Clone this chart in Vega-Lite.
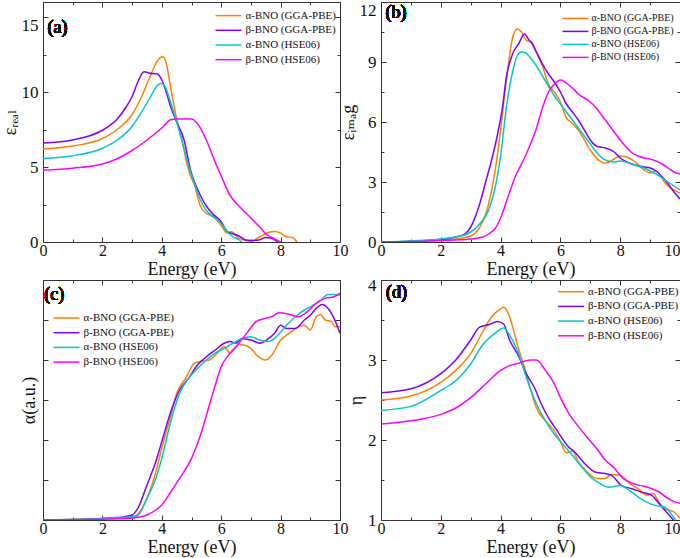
{
 "$schema": "https://vega.github.io/schema/vega-lite/v6.json",
 "padding": {"left": 0, "top": 1, "right": 0, "bottom": 0},
 "background": "white",
 "config": {
  "font": "Liberation Serif, Tinos, Times New Roman, Times, DejaVu Serif, serif",
  "view": {"stroke": "#333", "strokeWidth": 1},
  "axis": {"domain": false, "grid": false, "tickColor": "#333", "tickWidth": 1, "labelFont": "Liberation Serif, Tinos, Times New Roman, Times, DejaVu Serif, serif", "labelFontSize": 17, "labelColor": "#111", "titleFont": "Liberation Serif, Tinos, Times New Roman, Times, DejaVu Serif, serif", "titleFontSize": 18, "titleFontWeight": "normal", "titleColor": "#111", "labelOverlap": false, "labelFlush": false, "labelBound": false, "format": "~r"},
  "axisX": {"labelPadding": 5, "labelFontSize": 16, "titlePadding": 0},
  "axisY": {"labelPadding": 10, "titlePadding": 2},
  "legend": {"orient": "none", "symbolType": "M-2.6,0H2.6", "symbolSize": 100, "symbolStrokeWidth": 1.5, "labelFont": "Liberation Serif, Tinos, Times New Roman, Times, DejaVu Serif, serif", "labelFontSize": 11, "labelColor": "#111", "labelOffset": 11, "rowPadding": 3.7, "padding": 0, "labelLimit": 300},
  "text": {"font": "Liberation Serif, Tinos, Times New Roman, Times, DejaVu Serif, serif", "fontSize": 18, "fontWeight": "normal", "color": "#111", "align": "left", "baseline": "alphabetic"},
  "line": {"strokeWidth": 1.5, "interpolate": "monotone"}
 },
 "datasets": {
  "a": [
   {"s":"aG","e":0,"v":6.2},{"s":"aG","e":1,"v":6.4},{"s":"aG","e":2,"v":6.9},{"s":"aG","e":2.5,"v":7.5},{"s":"aG","e":3,"v":8.5},{"s":"aG","e":3.3,"v":9.6},{"s":"aG","e":3.6,"v":11.0},{"s":"aG","e":3.8,"v":11.9},{"s":"aG","e":3.95,"v":12.3},{"s":"aG","e":4.05,"v":12.35},{"s":"aG","e":4.15,"v":11.9},{"s":"aG","e":4.3,"v":10.3},{"s":"aG","e":4.5,"v":8.2},{"s":"aG","e":4.7,"v":6.6},{"s":"aG","e":4.85,"v":5.2},{"s":"aG","e":4.95,"v":4.5},{"s":"aG","e":5.1,"v":3.8},{"s":"aG","e":5.3,"v":2.4},{"s":"aG","e":5.5,"v":1.9},{"s":"aG","e":5.75,"v":1.7},{"s":"aG","e":6.0,"v":1.1},{"s":"aG","e":6.2,"v":0.6},{"s":"aG","e":6.35,"v":0.7},{"s":"aG","e":6.5,"v":0.4},{"s":"aG","e":6.8,"v":0.1},{"s":"aG","e":7.0,"v":0.05},{"s":"aG","e":7.3,"v":0.35},{"s":"aG","e":7.6,"v":0.65},{"s":"aG","e":7.8,"v":0.7},{"s":"aG","e":8.0,"v":0.6},{"s":"aG","e":8.2,"v":0.35},{"s":"aG","e":8.4,"v":0.3},{"s":"aG","e":8.55,"v":0},
   {"s":"bG","e":0,"v":6.6},{"s":"bG","e":1,"v":6.8},{"s":"bG","e":2,"v":7.45},{"s":"bG","e":2.5,"v":8.2},{"s":"bG","e":2.8,"v":9.0},{"s":"bG","e":3.0,"v":9.7},{"s":"bG","e":3.2,"v":10.7},{"s":"bG","e":3.4,"v":11.35},{"s":"bG","e":3.6,"v":11.25},{"s":"bG","e":3.85,"v":11.2},{"s":"bG","e":4.0,"v":10.8},{"s":"bG","e":4.1,"v":10.3},{"s":"bG","e":4.3,"v":9.0},{"s":"bG","e":4.5,"v":8.0},{"s":"bG","e":4.75,"v":6.8},{"s":"bG","e":4.98,"v":4.7},{"s":"bG","e":5.1,"v":4.0},{"s":"bG","e":5.3,"v":3.1},{"s":"bG","e":5.5,"v":2.4},{"s":"bG","e":5.7,"v":1.9},{"s":"bG","e":6.0,"v":1.35},{"s":"bG","e":6.2,"v":0.7},{"s":"bG","e":6.4,"v":0.55},{"s":"bG","e":6.6,"v":0.4},{"s":"bG","e":6.8,"v":0.15},{"s":"bG","e":7.0,"v":0.1},{"s":"bG","e":7.3,"v":0.15},{"s":"bG","e":7.5,"v":0.3},{"s":"bG","e":7.7,"v":0.25},{"s":"bG","e":7.9,"v":0},
   {"s":"aH","e":0,"v":5.56},{"s":"aH","e":1,"v":5.75},{"s":"aH","e":2,"v":6.25},{"s":"aH","e":2.5,"v":6.8},{"s":"aH","e":3.0,"v":7.7},{"s":"aH","e":3.3,"v":8.6},{"s":"aH","e":3.6,"v":9.6},{"s":"aH","e":3.8,"v":10.3},{"s":"aH","e":3.97,"v":10.56},{"s":"aH","e":4.1,"v":10.4},{"s":"aH","e":4.25,"v":9.6},{"s":"aH","e":4.5,"v":8.0},{"s":"aH","e":4.7,"v":6.6},{"s":"aH","e":4.9,"v":5.1},{"s":"aH","e":5.1,"v":3.9},{"s":"aH","e":5.3,"v":2.8},{"s":"aH","e":5.5,"v":2.1},{"s":"aH","e":5.7,"v":1.7},{"s":"aH","e":6.0,"v":1.25},{"s":"aH","e":6.2,"v":0.7},{"s":"aH","e":6.4,"v":0.35},{"s":"aH","e":6.6,"v":0.15},{"s":"aH","e":6.7,"v":0},
   {"s":"bH","e":0,"v":4.79},{"s":"bH","e":1,"v":4.92},{"s":"bH","e":2,"v":5.2},{"s":"bH","e":2.5,"v":5.55},{"s":"bH","e":3.0,"v":6.1},{"s":"bH","e":3.5,"v":6.8},{"s":"bH","e":4.0,"v":7.6},{"s":"bH","e":4.3,"v":8.15},{"s":"bH","e":4.5,"v":8.2},{"s":"bH","e":5.0,"v":8.2},{"s":"bH","e":5.2,"v":7.9},{"s":"bH","e":5.5,"v":6.8},{"s":"bH","e":5.8,"v":5.3},{"s":"bH","e":6.0,"v":4.4},{"s":"bH","e":6.3,"v":3.1},{"s":"bH","e":6.6,"v":2.4},{"s":"bH","e":7.0,"v":1.6},{"s":"bH","e":7.3,"v":1.0},{"s":"bH","e":7.5,"v":0.55},{"s":"bH","e":7.8,"v":0.2},{"s":"bH","e":8.0,"v":0}
  ],
  "b": [
   {"s":"aG","e":0,"v":0},{"s":"aG","e":1,"v":0.03},{"s":"aG","e":2,"v":0.1},{"s":"aG","e":2.5,"v":0.15},{"s":"aG","e":3.0,"v":0.3},{"s":"aG","e":3.3,"v":0.73},{"s":"aG","e":3.6,"v":1.9},{"s":"aG","e":3.8,"v":3.4},{"s":"aG","e":4.0,"v":5.6},{"s":"aG","e":4.2,"v":8.2},{"s":"aG","e":4.4,"v":10.2},{"s":"aG","e":4.55,"v":10.65},{"s":"aG","e":4.7,"v":10.5},{"s":"aG","e":4.85,"v":10.1},{"s":"aG","e":5.0,"v":10.0},{"s":"aG","e":5.2,"v":9.45},{"s":"aG","e":5.4,"v":8.8},{"s":"aG","e":5.6,"v":7.9},{"s":"aG","e":5.8,"v":7.5},{"s":"aG","e":6.0,"v":7.0},{"s":"aG","e":6.2,"v":6.2},{"s":"aG","e":6.35,"v":6.0},{"s":"aG","e":6.6,"v":5.6},{"s":"aG","e":7.0,"v":4.6},{"s":"aG","e":7.2,"v":4.2},{"s":"aG","e":7.5,"v":3.95},{"s":"aG","e":7.8,"v":4.15},{"s":"aG","e":8.0,"v":4.3},{"s":"aG","e":8.3,"v":4.2},{"s":"aG","e":8.5,"v":4.0},{"s":"aG","e":8.8,"v":3.6},{"s":"aG","e":9.0,"v":3.45},{"s":"aG","e":9.2,"v":3.55},{"s":"aG","e":9.5,"v":2.95},{"s":"aG","e":10,"v":2.45},
   {"s":"bG","e":0,"v":0},{"s":"bG","e":1,"v":0.04},{"s":"bG","e":2,"v":0.13},{"s":"bG","e":2.5,"v":0.25},{"s":"bG","e":2.8,"v":0.4},{"s":"bG","e":3.0,"v":0.75},{"s":"bG","e":3.3,"v":1.9},{"s":"bG","e":3.5,"v":3.0},{"s":"bG","e":3.7,"v":4.1},{"s":"bG","e":3.9,"v":5.4},{"s":"bG","e":4.05,"v":6.6},{"s":"bG","e":4.2,"v":8.3},{"s":"bG","e":4.4,"v":9.4},{"s":"bG","e":4.6,"v":9.9},{"s":"bG","e":4.8,"v":10.4},{"s":"bG","e":4.95,"v":10.1},{"s":"bG","e":5.05,"v":9.95},{"s":"bG","e":5.2,"v":9.5},{"s":"bG","e":5.4,"v":8.9},{"s":"bG","e":5.6,"v":8.4},{"s":"bG","e":5.8,"v":8.0},{"s":"bG","e":6.0,"v":7.5},{"s":"bG","e":6.2,"v":6.9},{"s":"bG","e":6.4,"v":6.5},{"s":"bG","e":6.6,"v":6.1},{"s":"bG","e":6.8,"v":5.6},{"s":"bG","e":7.0,"v":5.1},{"s":"bG","e":7.2,"v":4.8},{"s":"bG","e":7.5,"v":4.7},{"s":"bG","e":7.8,"v":4.5},{"s":"bG","e":8.0,"v":4.2},{"s":"bG","e":8.3,"v":3.95},{"s":"bG","e":8.5,"v":3.85},{"s":"bG","e":8.8,"v":3.75},{"s":"bG","e":9.0,"v":3.7},{"s":"bG","e":9.2,"v":3.55},{"s":"bG","e":9.5,"v":3.1},{"s":"bG","e":9.8,"v":2.5},{"s":"bG","e":10,"v":2.15},
   {"s":"aH","e":0,"v":0},{"s":"aH","e":1,"v":0.05},{"s":"aH","e":2,"v":0.15},{"s":"aH","e":2.5,"v":0.25},{"s":"aH","e":2.8,"v":0.35},{"s":"aH","e":3.0,"v":0.5},{"s":"aH","e":3.3,"v":0.9},{"s":"aH","e":3.6,"v":1.6},{"s":"aH","e":3.8,"v":2.6},{"s":"aH","e":4.0,"v":4.3},{"s":"aH","e":4.2,"v":6.8},{"s":"aH","e":4.4,"v":8.5},{"s":"aH","e":4.55,"v":9.3},{"s":"aH","e":4.7,"v":9.5},{"s":"aH","e":4.85,"v":9.45},{"s":"aH","e":5.0,"v":9.2},{"s":"aH","e":5.2,"v":8.8},{"s":"aH","e":5.4,"v":8.3},{"s":"aH","e":5.6,"v":7.8},{"s":"aH","e":5.8,"v":7.3},{"s":"aH","e":6.0,"v":6.9},{"s":"aH","e":6.2,"v":6.5},{"s":"aH","e":6.4,"v":6.1},{"s":"aH","e":6.6,"v":5.7},{"s":"aH","e":6.8,"v":5.3},{"s":"aH","e":7.0,"v":4.9},{"s":"aH","e":7.2,"v":4.5},{"s":"aH","e":7.5,"v":4.1},{"s":"aH","e":7.8,"v":4.0},{"s":"aH","e":8.0,"v":4.05},{"s":"aH","e":8.3,"v":3.95},{"s":"aH","e":8.5,"v":3.85},{"s":"aH","e":8.8,"v":3.7},{"s":"aH","e":9.0,"v":3.55},{"s":"aH","e":9.2,"v":3.4},{"s":"aH","e":9.5,"v":3.1},{"s":"aH","e":9.8,"v":2.8},{"s":"aH","e":10,"v":2.6},
   {"s":"bH","e":0,"v":0},{"s":"bH","e":1,"v":0.02},{"s":"bH","e":2,"v":0.07},{"s":"bH","e":2.5,"v":0.1},{"s":"bH","e":3.0,"v":0.15},{"s":"bH","e":3.4,"v":0.25},{"s":"bH","e":3.6,"v":0.4},{"s":"bH","e":3.83,"v":0.7},{"s":"bH","e":4.0,"v":1.2},{"s":"bH","e":4.28,"v":2.4},{"s":"bH","e":4.5,"v":3.3},{"s":"bH","e":4.8,"v":4.2},{"s":"bH","e":5.0,"v":4.9},{"s":"bH","e":5.18,"v":5.6},{"s":"bH","e":5.4,"v":6.7},{"s":"bH","e":5.6,"v":7.5},{"s":"bH","e":5.8,"v":7.9},{"s":"bH","e":6.0,"v":8.1},{"s":"bH","e":6.2,"v":7.95},{"s":"bH","e":6.4,"v":7.7},{"s":"bH","e":6.6,"v":7.4},{"s":"bH","e":7.0,"v":7.0},{"s":"bH","e":7.2,"v":6.7},{"s":"bH","e":7.4,"v":6.3},{"s":"bH","e":7.6,"v":5.9},{"s":"bH","e":7.8,"v":5.5},{"s":"bH","e":8.0,"v":5.1},{"s":"bH","e":8.2,"v":4.75},{"s":"bH","e":8.4,"v":4.45},{"s":"bH","e":8.6,"v":4.3},{"s":"bH","e":8.8,"v":4.2},{"s":"bH","e":9.0,"v":4.15},{"s":"bH","e":9.2,"v":4.05},{"s":"bH","e":9.4,"v":3.9},{"s":"bH","e":9.6,"v":3.7},{"s":"bH","e":9.8,"v":3.5},{"s":"bH","e":10,"v":3.4}
  ],
  "c": [
   {"s":"aG","e":0,"v":0},{"s":"aG","e":1,"v":0.01},{"s":"aG","e":2,"v":0.03},{"s":"aG","e":2.5,"v":0.05},{"s":"aG","e":3.0,"v":0.08},{"s":"aG","e":3.2,"v":0.15},{"s":"aG","e":3.5,"v":0.54},{"s":"aG","e":3.8,"v":1.2},{"s":"aG","e":4.0,"v":1.8},{"s":"aG","e":4.3,"v":2.6},{"s":"aG","e":4.5,"v":3.17},{"s":"aG","e":4.8,"v":3.54},{"s":"aG","e":5.1,"v":3.92},{"s":"aG","e":5.3,"v":3.96},{"s":"aG","e":5.6,"v":4.0},{"s":"aG","e":5.8,"v":4.12},{"s":"aG","e":6.1,"v":4.33},{"s":"aG","e":6.3,"v":4.17},{"s":"aG","e":6.6,"v":4.39},{"s":"aG","e":6.8,"v":4.37},{"s":"aG","e":7.0,"v":4.29},{"s":"aG","e":7.2,"v":4.12},{"s":"aG","e":7.5,"v":4.0},{"s":"aG","e":7.7,"v":4.12},{"s":"aG","e":8.0,"v":4.5},{"s":"aG","e":8.3,"v":4.67},{"s":"aG","e":8.6,"v":4.83},{"s":"aG","e":8.8,"v":4.87},{"s":"aG","e":9.0,"v":4.75},{"s":"aG","e":9.2,"v":5.08},{"s":"aG","e":9.35,"v":5.14},{"s":"aG","e":9.5,"v":5.0},{"s":"aG","e":9.7,"v":4.96},{"s":"aG","e":9.85,"v":4.83},{"s":"aG","e":10,"v":4.83},
   {"s":"bG","e":0,"v":0},{"s":"bG","e":1,"v":0.01},{"s":"bG","e":2,"v":0.04},{"s":"bG","e":2.5,"v":0.06},{"s":"bG","e":3.0,"v":0.125},{"s":"bG","e":3.2,"v":0.3},{"s":"bG","e":3.5,"v":0.875},{"s":"bG","e":3.8,"v":1.46},{"s":"bG","e":4.0,"v":1.96},{"s":"bG","e":4.3,"v":2.7},{"s":"bG","e":4.6,"v":3.25},{"s":"bG","e":4.9,"v":3.54},{"s":"bG","e":5.2,"v":3.875},{"s":"bG","e":5.5,"v":4.08},{"s":"bG","e":5.8,"v":4.25},{"s":"bG","e":6.1,"v":4.42},{"s":"bG","e":6.3,"v":4.46},{"s":"bG","e":6.5,"v":4.42},{"s":"bG","e":6.7,"v":4.54},{"s":"bG","e":7.0,"v":4.5},{"s":"bG","e":7.3,"v":4.42},{"s":"bG","e":7.6,"v":4.54},{"s":"bG","e":7.8,"v":4.67},{"s":"bG","e":8.0,"v":4.87},{"s":"bG","e":8.2,"v":4.79},{"s":"bG","e":8.5,"v":4.79},{"s":"bG","e":8.8,"v":5.0},{"s":"bG","e":9.0,"v":5.12},{"s":"bG","e":9.2,"v":5.29},{"s":"bG","e":9.4,"v":5.39},{"s":"bG","e":9.6,"v":5.29},{"s":"bG","e":9.8,"v":5.04},{"s":"bG","e":10,"v":4.67},
   {"s":"aH","e":0,"v":0},{"s":"aH","e":1,"v":0.01},{"s":"aH","e":2,"v":0.04},{"s":"aH","e":2.5,"v":0.06},{"s":"aH","e":3.0,"v":0.08},{"s":"aH","e":3.2,"v":0.12},{"s":"aH","e":3.5,"v":0.54},{"s":"aH","e":3.8,"v":1.04},{"s":"aH","e":4.0,"v":1.54},{"s":"aH","e":4.3,"v":2.46},{"s":"aH","e":4.6,"v":3.17},{"s":"aH","e":4.9,"v":3.54},{"s":"aH","e":5.2,"v":3.79},{"s":"aH","e":5.5,"v":4.0},{"s":"aH","e":5.8,"v":4.17},{"s":"aH","e":6.1,"v":4.29},{"s":"aH","e":6.4,"v":4.42},{"s":"aH","e":6.7,"v":4.54},{"s":"aH","e":7.0,"v":4.58},{"s":"aH","e":7.3,"v":4.5},{"s":"aH","e":7.6,"v":4.46},{"s":"aH","e":7.9,"v":4.62},{"s":"aH","e":8.2,"v":4.87},{"s":"aH","e":8.5,"v":5.08},{"s":"aH","e":8.8,"v":5.25},{"s":"aH","e":9.0,"v":5.33},{"s":"aH","e":9.3,"v":5.46},{"s":"aH","e":9.6,"v":5.64},{"s":"aH","e":9.8,"v":5.64},{"s":"aH","e":10,"v":5.62},
   {"s":"bH","e":0,"v":0},{"s":"bH","e":1,"v":0.005},{"s":"bH","e":2,"v":0.02},{"s":"bH","e":2.5,"v":0.03},{"s":"bH","e":3.0,"v":0.05},{"s":"bH","e":3.5,"v":0.125},{"s":"bH","e":3.8,"v":0.25},{"s":"bH","e":4.0,"v":0.375},{"s":"bH","e":4.3,"v":0.7},{"s":"bH","e":4.6,"v":1.04},{"s":"bH","e":5.0,"v":1.54},{"s":"bH","e":5.3,"v":2.12},{"s":"bH","e":5.6,"v":2.87},{"s":"bH","e":5.8,"v":3.37},{"s":"bH","e":6.0,"v":3.83},{"s":"bH","e":6.3,"v":4.17},{"s":"bH","e":6.6,"v":4.42},{"s":"bH","e":6.9,"v":4.71},{"s":"bH","e":7.2,"v":4.97},{"s":"bH","e":7.5,"v":5.04},{"s":"bH","e":7.7,"v":5.08},{"s":"bH","e":7.95,"v":5.18},{"s":"bH","e":8.3,"v":5.14},{"s":"bH","e":8.6,"v":5.08},{"s":"bH","e":8.9,"v":5.21},{"s":"bH","e":9.2,"v":5.42},{"s":"bH","e":9.5,"v":5.54},{"s":"bH","e":9.8,"v":5.58},{"s":"bH","e":10,"v":5.67}
  ],
  "d": [
   {"s":"aG","e":0,"v":2.5},{"s":"aG","e":1,"v":2.55},{"s":"aG","e":2,"v":2.72},{"s":"aG","e":2.5,"v":2.87},{"s":"aG","e":3.0,"v":3.08},{"s":"aG","e":3.4,"v":3.35},{"s":"aG","e":3.7,"v":3.54},{"s":"aG","e":4.0,"v":3.64},{"s":"aG","e":4.1,"v":3.66},{"s":"aG","e":4.25,"v":3.59},{"s":"aG","e":4.4,"v":3.42},{"s":"aG","e":4.6,"v":3.14},{"s":"aG","e":4.8,"v":2.91},{"s":"aG","e":5.0,"v":2.64},{"s":"aG","e":5.2,"v":2.4},{"s":"aG","e":5.5,"v":2.24},{"s":"aG","e":5.8,"v":2.11},{"s":"aG","e":6.0,"v":1.98},{"s":"aG","e":6.2,"v":1.84},{"s":"aG","e":6.4,"v":1.86},{"s":"aG","e":6.6,"v":1.73},{"s":"aG","e":6.9,"v":1.6},{"s":"aG","e":7.2,"v":1.52},{"s":"aG","e":7.5,"v":1.52},{"s":"aG","e":7.7,"v":1.57},{"s":"aG","e":8.0,"v":1.56},{"s":"aG","e":8.3,"v":1.46},{"s":"aG","e":8.6,"v":1.39},{"s":"aG","e":8.9,"v":1.31},{"s":"aG","e":9.1,"v":1.33},{"s":"aG","e":9.3,"v":1.22},{"s":"aG","e":9.5,"v":1.14},{"s":"aG","e":9.8,"v":1.1},{"s":"aG","e":10,"v":1.02},
   {"s":"bG","e":0,"v":2.59},{"s":"bG","e":1,"v":2.64},{"s":"bG","e":2,"v":2.83},{"s":"bG","e":2.5,"v":3.0},{"s":"bG","e":3.0,"v":3.25},{"s":"bG","e":3.3,"v":3.41},{"s":"bG","e":3.6,"v":3.44},{"s":"bG","e":3.9,"v":3.48},{"s":"bG","e":4.1,"v":3.45},{"s":"bG","e":4.3,"v":3.25},{"s":"bG","e":4.6,"v":3.05},{"s":"bG","e":4.8,"v":2.87},{"s":"bG","e":5.15,"v":2.64},{"s":"bG","e":5.36,"v":2.45},{"s":"bG","e":5.6,"v":2.28},{"s":"bG","e":5.9,"v":2.11},{"s":"bG","e":6.26,"v":1.92},{"s":"bG","e":6.5,"v":1.84},{"s":"bG","e":6.8,"v":1.71},{"s":"bG","e":7.15,"v":1.6},{"s":"bG","e":7.5,"v":1.58},{"s":"bG","e":7.7,"v":1.56},{"s":"bG","e":8.05,"v":1.43},{"s":"bG","e":8.4,"v":1.39},{"s":"bG","e":8.7,"v":1.35},{"s":"bG","e":9.05,"v":1.31},{"s":"bG","e":9.27,"v":1.22},{"s":"bG","e":9.5,"v":1.12},{"s":"bG","e":9.78,"v":1.0},
   {"s":"aH","e":0,"v":2.37},{"s":"aH","e":1,"v":2.42},{"s":"aH","e":2,"v":2.62},{"s":"aH","e":2.5,"v":2.74},{"s":"aH","e":3.0,"v":2.95},{"s":"aH","e":3.4,"v":3.19},{"s":"aH","e":3.8,"v":3.33},{"s":"aH","e":4.1,"v":3.4},{"s":"aH","e":4.3,"v":3.31},{"s":"aH","e":4.6,"v":3.08},{"s":"aH","e":4.9,"v":2.74},{"s":"aH","e":5.2,"v":2.45},{"s":"aH","e":5.5,"v":2.24},{"s":"aH","e":5.8,"v":2.07},{"s":"aH","e":6.1,"v":1.94},{"s":"aH","e":6.4,"v":1.81},{"s":"aH","e":6.7,"v":1.67},{"s":"aH","e":7.0,"v":1.54},{"s":"aH","e":7.3,"v":1.46},{"s":"aH","e":7.6,"v":1.41},{"s":"aH","e":8.0,"v":1.43},{"s":"aH","e":8.3,"v":1.37},{"s":"aH","e":8.6,"v":1.29},{"s":"aH","e":8.9,"v":1.22},{"s":"aH","e":9.2,"v":1.18},{"s":"aH","e":9.5,"v":1.16},{"s":"aH","e":9.7,"v":1.08},{"s":"aH","e":9.85,"v":1.0},
   {"s":"bH","e":0,"v":2.2},{"s":"bH","e":1,"v":2.24},{"s":"bH","e":2,"v":2.32},{"s":"bH","e":2.5,"v":2.4},{"s":"bH","e":3.0,"v":2.53},{"s":"bH","e":3.5,"v":2.7},{"s":"bH","e":4.0,"v":2.87},{"s":"bH","e":4.3,"v":2.93},{"s":"bH","e":4.6,"v":2.96},{"s":"bH","e":5.0,"v":3.0},{"s":"bH","e":5.2,"v":3.0},{"s":"bH","e":5.5,"v":2.87},{"s":"bH","e":5.8,"v":2.7},{"s":"bH","e":6.0,"v":2.53},{"s":"bH","e":6.3,"v":2.32},{"s":"bH","e":6.6,"v":2.17},{"s":"bH","e":6.9,"v":2.03},{"s":"bH","e":7.2,"v":1.9},{"s":"bH","e":7.5,"v":1.75},{"s":"bH","e":7.8,"v":1.65},{"s":"bH","e":8.1,"v":1.52},{"s":"bH","e":8.4,"v":1.46},{"s":"bH","e":8.7,"v":1.43},{"s":"bH","e":9.0,"v":1.4},{"s":"bH","e":9.3,"v":1.35},{"s":"bH","e":9.6,"v":1.27},{"s":"bH","e":9.8,"v":1.23},{"s":"bH","e":10,"v":1.21}
  ]
 },
 "columns": 2,
 "spacing": {"row": 38, "column": 41},
 "bounds": "flush",
 "concat": [
  {
   "width": 297, "height": 240,
   "data": {"name": "a"},
   "layer": [
    {"mark": {"type": "line", "clip": true},
     "encoding": {
      "x": {"field": "e", "type": "quantitative", "scale": {"domain": [0, 10]}, "axis": {"orient": "bottom", "values": [0,1,2,3,4,5,6,7,8,9,10], "labelExpr": "datum.value % 2 === 0 ? datum.label : ''", "tickSize": {"condition": {"test": "datum.value % 2 === 0", "value": -5}, "value": -3}, "title": "Energy (eV)"}},
      "y": {"field": "v", "type": "quantitative", "scale": {"domain": [0, 15]}, "axis": {"orient": "left", "values": [0,2.5,5,7.5,10,12.5,15], "labelExpr": "datum.value % 5 === 0 ? datum.label : ''", "labelOffset": {"condition": {"test": "datum.value === 15", "value": 8.5}, "value": 0}, "tickSize": {"condition": {"test": "datum.value % 5 === 0", "value": -5}, "value": -3}, "title": "εᵣₑₐₗ"}},
      "color": {"field": "s", "type": "nominal", "scale": {"domain": ["aG","bG","aH","bH"], "range": ["#FF8000","#8000FF","#00C8C8","#FF00FF"]}, "legend": {"title": null, "legendX": 179.5, "legendY": 7.6, "labelExpr": "datum.label === 'aG' ? 'α-BNO (GGA-PBE)' : datum.label === 'bG' ? 'β-BNO (GGA-PBE)' : datum.label === 'aH' ? 'α-BNO (HSE06)' : 'β-BNO (HSE06)'"}}
     }},
    {"mark": {"type": "line", "opacity": 0},
     "encoding": {
      "x": {"field": "e", "type": "quantitative", "scale": {"domain": [0, 10]}, "axis": {"orient": "top", "labels": false, "title": null, "values": [0,1,2,3,4,5,6,7,8,9,10], "tickSize": {"condition": {"test": "datum.value % 2 === 0", "value": -5}, "value": -3}}},
      "y": {"field": "v", "type": "quantitative", "scale": {"domain": [0, 15]}, "axis": {"orient": "right", "labels": false, "title": null, "values": [0,2.5,5,7.5,10,12.5,15], "tickSize": {"condition": {"test": "datum.value % 5 === 0", "value": -5}, "value": -3}}},
      "detail": {"field": "s"}
     }},
    {"mark": {"type": "text"},
     "encoding": {
      "x": {"datum": 0.15, "type": "quantitative", "axis": null},
      "y": {"datum": 13.95, "type": "quantitative", "axis": null},
      "text": {"value": "(a)"}
     }}
   ],
   "resolve": {"axis": {"x": "independent", "y": "independent"}}
  },
  {
   "width": 299, "height": 240,
   "data": {"name": "b"},
   "layer": [
    {"mark": {"type": "line", "clip": true},
     "encoding": {
      "x": {"field": "e", "type": "quantitative", "scale": {"domain": [0, 10]}, "axis": {"orient": "bottom", "values": [0,1,2,3,4,5,6,7,8,9,10], "labelExpr": "datum.value % 2 === 0 ? datum.label : ''", "labelAlign": {"condition": {"test": "datum.value === 10", "value": "right"}, "value": "center"}, "tickSize": {"condition": {"test": "datum.value % 2 === 0", "value": -5}, "value": -3}, "title": "Energy (eV)"}},
      "y": {"field": "v", "type": "quantitative", "scale": {"domain": [0, 12]}, "axis": {"orient": "left", "values": [0,1.5,3,4.5,6,7.5,9,10.5,12], "labelExpr": "datum.value % 3 === 0 ? datum.label : ''", "labelOffset": {"condition": {"test": "datum.value === 12", "value": 8.5}, "value": 0}, "tickSize": {"condition": {"test": "datum.value % 3 === 0", "value": -5}, "value": -3}, "title": "εᵢₘₐg"}},
      "color": {"field": "s", "type": "nominal", "scale": {"domain": ["aG","bG","aH","bH"], "range": ["#FF8000","#8000FF","#00C8C8","#FF00FF"]}, "legend": {"title": null, "legendX": 188.5, "legendY": 10.4, "rowPadding": 2, "labelFontSize": 10, "labelOffset": 10, "labelExpr": "datum.label === 'aG' ? 'α-BNO (GGA-PBE)' : datum.label === 'bG' ? 'β-BNO (GGA-PBE)' : datum.label === 'aH' ? 'α-BNO (HSE06)' : 'β-BNO (HSE06)'"}}
     }},
    {"mark": {"type": "line", "opacity": 0},
     "encoding": {
      "x": {"field": "e", "type": "quantitative", "scale": {"domain": [0, 10]}, "axis": {"orient": "top", "labels": false, "title": null, "values": [0,1,2,3,4,5,6,7,8,9,10], "tickSize": {"condition": {"test": "datum.value % 2 === 0", "value": -5}, "value": -3}}},
      "y": {"field": "v", "type": "quantitative", "scale": {"domain": [0, 12]}, "axis": {"orient": "right", "labels": false, "title": null, "values": [0,1.5,3,4.5,6,7.5,9,10.5,12], "tickSize": {"condition": {"test": "datum.value % 3 === 0", "value": -5}, "value": -3}}},
      "detail": {"field": "s"}
     }},
    {"mark": {"type": "text"},
     "encoding": {
      "x": {"datum": 0.15, "type": "quantitative", "axis": null},
      "y": {"datum": 11.2, "type": "quantitative", "axis": null},
      "text": {"value": "(b)"}
     }}
   ],
   "resolve": {"axis": {"x": "independent", "y": "independent"}}
  },
  {
   "width": 297, "height": 240,
   "data": {"name": "c"},
   "layer": [
    {"mark": {"type": "line", "clip": true},
     "encoding": {
      "x": {"field": "e", "type": "quantitative", "scale": {"domain": [0, 10]}, "axis": {"orient": "bottom", "values": [0,1,2,3,4,5,6,7,8,9,10], "labelExpr": "datum.value % 2 === 0 ? datum.label : ''", "tickSize": {"condition": {"test": "datum.value % 2 === 0", "value": -5}, "value": -3}, "title": "Energy (eV)"}},
      "y": {"field": "v", "type": "quantitative", "scale": {"domain": [0, 6]}, "axis": {"orient": "left", "values": [0,1,2,3,4,5,6], "labels": false, "tickSize": -5, "title": "α(a.u.)", "titlePadding": 4}},
      "color": {"field": "s", "type": "nominal", "scale": {"domain": ["aG","bG","aH","bH"], "range": ["#FF8000","#8000FF","#00C8C8","#FF00FF"]}, "legend": {"title": null, "legendX": 17.5, "legendY": 32, "labelExpr": "datum.label === 'aG' ? 'α-BNO (GGA-PBE)' : datum.label === 'bG' ? 'β-BNO (GGA-PBE)' : datum.label === 'aH' ? 'α-BNO (HSE06)' : 'β-BNO (HSE06)'"}}
     }},
    {"mark": {"type": "line", "opacity": 0},
     "encoding": {
      "x": {"field": "e", "type": "quantitative", "scale": {"domain": [0, 10]}, "axis": {"orient": "top", "labels": false, "title": null, "values": [0,1,2,3,4,5,6,7,8,9,10], "tickSize": {"condition": {"test": "datum.value % 2 === 0", "value": -5}, "value": -3}}},
      "y": {"field": "v", "type": "quantitative", "scale": {"domain": [0, 6]}, "axis": {"orient": "right", "labels": false, "title": null, "values": [0,1,2,3,4,5,6], "tickSize": -5}},
      "detail": {"field": "s"}
     }},
    {"mark": {"type": "text"},
     "encoding": {
      "x": {"datum": 0.04, "type": "quantitative", "axis": null},
      "y": {"datum": 5.5, "type": "quantitative", "axis": null},
      "text": {"value": "(c)"}
     }}
   ],
   "resolve": {"axis": {"x": "independent", "y": "independent"}}
  },
  {
   "width": 299, "height": 240,
   "data": {"name": "d"},
   "layer": [
    {"mark": {"type": "line", "clip": true},
     "encoding": {
      "x": {"field": "e", "type": "quantitative", "scale": {"domain": [0, 10]}, "axis": {"orient": "bottom", "values": [0,1,2,3,4,5,6,7,8,9,10], "labelExpr": "datum.value % 2 === 0 ? datum.label : ''", "labelAlign": {"condition": {"test": "datum.value === 10", "value": "right"}, "value": "center"}, "tickSize": {"condition": {"test": "datum.value % 2 === 0", "value": -5}, "value": -3}, "title": "Energy (eV)"}},
      "y": {"field": "v", "type": "quantitative", "scale": {"domain": [1, 4]}, "axis": {"orient": "left", "values": [1,1.5,2,2.5,3,3.5,4], "labelExpr": "datum.value % 1 === 0 ? datum.label : ''", "labelOffset": {"condition": {"test": "datum.value === 4", "value": 5}, "value": 0}, "tickSize": {"condition": {"test": "datum.value % 1 === 0", "value": -5}, "value": -3}, "title": "η"}},
      "color": {"field": "s", "type": "nominal", "scale": {"domain": ["aG","bG","aH","bH"], "range": ["#FF8000","#8000FF","#00C8C8","#FF00FF"]}, "legend": {"title": null, "legendX": 184, "legendY": 5.7, "labelExpr": "datum.label === 'aG' ? 'α-BNO (GGA-PBE)' : datum.label === 'bG' ? 'β-BNO (GGA-PBE)' : datum.label === 'aH' ? 'α-BNO (HSE06)' : 'β-BNO (HSE06)'"}}
     }},
    {"mark": {"type": "line", "opacity": 0},
     "encoding": {
      "x": {"field": "e", "type": "quantitative", "scale": {"domain": [0, 10]}, "axis": {"orient": "top", "labels": false, "title": null, "values": [0,1,2,3,4,5,6,7,8,9,10], "tickSize": {"condition": {"test": "datum.value % 2 === 0", "value": -5}, "value": -3}}},
      "y": {"field": "v", "type": "quantitative", "scale": {"domain": [1, 4]}, "axis": {"orient": "right", "labels": false, "title": null, "values": [1,1.5,2,2.5,3,3.5,4], "tickSize": {"condition": {"test": "datum.value % 1 === 0", "value": -5}, "value": -3}}},
      "detail": {"field": "s"}
     }},
    {"mark": {"type": "text"},
     "encoding": {
      "x": {"datum": 0.17, "type": "quantitative", "axis": null},
      "y": {"datum": 3.78, "type": "quantitative", "axis": null},
      "text": {"value": "(d)"}
     }}
   ],
   "resolve": {"axis": {"x": "independent", "y": "independent"}}
  }
 ],
 "resolve": {"scale": {"color": "independent"}, "legend": {"color": "independent"}}
}
